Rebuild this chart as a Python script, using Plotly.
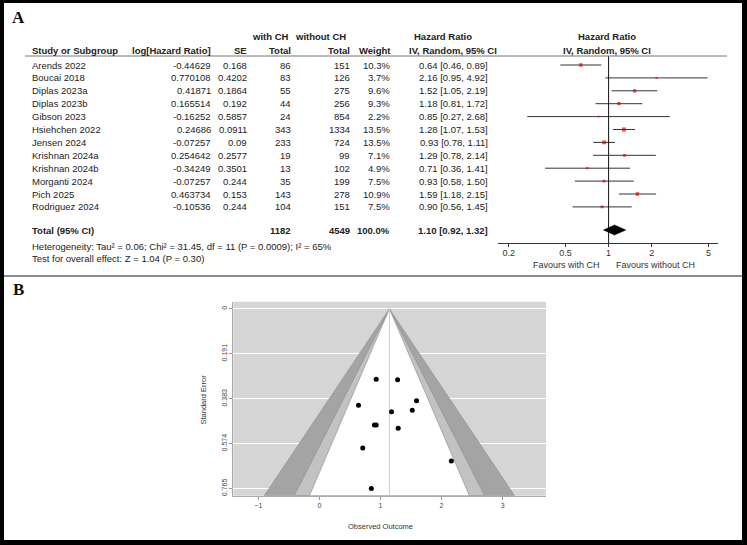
import plotly.graph_objects as go

W, H = 747, 545

# ---------------- data ----------------
studies = ["Arends 2022", "Boucai 2018", "Diplas 2023a", "Diplas 2023b", "Gibson 2023",
           "Hsiehchen 2022", "Jensen 2024", "Krishnan 2024a", "Krishnan 2024b",
           "Morganti 2024", "Pich 2025", "Rodriguez 2024"]
log_hr = [-0.44629, 0.770108, 0.41871, 0.165514, -0.16252, 0.24686, -0.07257,
          0.254642, -0.34249, -0.07257, 0.463734, -0.10536]
se = [0.168, 0.4202, 0.1864, 0.192, 0.5857, 0.0911, 0.09, 0.2577, 0.3501, 0.244, 0.153, 0.244]
n_with = [86, 83, 55, 44, 24, 343, 233, 19, 13, 35, 143, 104]
n_without = [151, 126, 275, 256, 854, 1334, 724, 99, 102, 199, 278, 151]
weight = [10.3, 3.7, 9.6, 9.3, 2.2, 13.5, 13.5, 7.1, 4.9, 7.5, 10.9, 7.5]
hr = [0.64, 2.16, 1.52, 1.18, 0.85, 1.28, 0.93, 1.29, 0.71, 0.93, 1.59, 0.90]
hr_lo = [0.46, 0.95, 1.05, 0.81, 0.27, 1.07, 0.78, 0.78, 0.36, 0.58, 1.18, 0.56]
hr_hi = [0.89, 4.92, 2.19, 1.72, 2.68, 1.53, 1.11, 2.14, 1.41, 1.50, 2.15, 1.45]
total_with, total_without, total_weight = 1182, 4549, 100.0
total_hr, total_lo, total_hi = 1.10, 0.92, 1.32
heterogeneity = "Heterogeneity: Tau² = 0.06; Chi² = 31.45, df = 11 (P = 0.0009); I² = 65%"
overall = "Test for overall effect: Z = 1.04 (P = 0.30)"
forest_ticks = [0.2, 0.5, 1, 2, 5]

# funnel plot (observed outcome vs standard error, as drawn)
funnel_x = [0.64, 2.16, 1.52, 1.18, 0.85, 1.28, 0.93, 1.29, 0.71, 0.93, 1.59, 0.90]
funnel_y = [0.410, 0.648, 0.432, 0.438, 0.765, 0.302, 0.300, 0.508, 0.592, 0.494, 0.391, 0.494]
funnel_center = 1.146
funnel_levels = [2.576, 1.96, 1.645]           # 99%, 95%, 90%
funnel_yticks = [0, 0.191, 0.383, 0.574, 0.765]
funnel_xticks = [-1, 0, 1, 2, 3]

# ---------------- helpers ----------------
def px(x):
    return x / W

def py(y):
    return 1 - y / H

FONT = "Liberation Sans, Arial, sans-serif"
FS = 9.5
TXT = "#222"
ROW0, ROW_H = 65, 12.9
rows_y = [ROW0 + ROW_H * i for i in range(len(studies))]
TOTAL_Y, HET_Y, OVR_Y = 230, 246, 258.5
HDR1_Y, HDR2_Y = 36.7, 50
AXIS_Y = 243.3

fig = go.Figure()
ann = []

def text(x, y, s, anchor="left", bold=False, size=FS, color=TXT, yref="y", family=FONT, angle=0):
    ann.append(dict(x=px(x), y=y if yref == "y" else py(y), xref="paper", yref=yref,
                    text=f"<b>{s}</b>" if bold else s, showarrow=False,
                    xanchor=anchor, yanchor="middle", textangle=angle,
                    font=dict(family=family, size=size, color=color)))

# headers
text(270, HDR1_Y, "with CH", "center", True)
text(320, HDR1_Y, "without CH", "center", True)
text(442.5, HDR1_Y, "Hazard Ratio", "center", True)
text(607, HDR1_Y, "Hazard Ratio", "center", True)
text(30, HDR2_Y, "Study or Subgroup", "left", True)
text(213, HDR2_Y, "log[Hazard Ratio]", "right", True)
text(249, HDR2_Y, "SE", "right", True)
text(293, HDR2_Y, "Total", "right", True)
text(352, HDR2_Y, "Total", "right", True)
text(392.5, HDR2_Y, "Weight", "right", True)
text(453, HDR2_Y, "IV, Random, 95% CI", "center", True)
text(607, HDR2_Y, "IV, Random, 95% CI", "center", True)

for i, s in enumerate(studies):
    y = rows_y[i]
    text(30, y, s)
    text(213, y, str(log_hr[i]), "right")
    text(249, y, str(se[i]), "right")
    text(293, y, str(n_with[i]), "right")
    text(352, y, str(n_without[i]), "right")
    text(392, y, f"{weight[i]:.1f}%", "right")
    text(490, y, f"{hr[i]:.2f} [{hr_lo[i]:.2f}, {hr_hi[i]:.2f}]", "right")

text(30, TOTAL_Y, "Total (95% CI)", "left", True)
text(293, TOTAL_Y, str(total_with), "right", True)
text(352, TOTAL_Y, str(total_without), "right", True)
text(392, TOTAL_Y, f"{total_weight:.1f}%", "right", True)
text(490, TOTAL_Y, f"{total_hr:.2f} [{total_lo:.2f}, {total_hi:.2f}]", "right", True)
text(30, HET_Y, heterogeneity)
text(30, OVR_Y, overall)
text(566.5, 264.5, "Favours with CH", "center", size=9, color="#333")
text(655, 264.5, "Favours without CH", "center", size=9, color="#333")

# panel labels
text(18, 17.5, "A", "center", True, size=17, color="#111", yref="paper", family="Liberation Serif, DejaVu Serif, serif")
text(18.5, 289, "B", "center", True, size=17, color="#111", yref="paper", family="Liberation Serif, DejaVu Serif, serif")

# funnel labels
text(202.5, 400, "Standard Error", "center", size=7.5, color="#333", yref="paper", angle=-90)
text(380, 526.5, "Observed Outcome", "center", size=7.5, color="#333", yref="paper")

# ---------------- forest traces ----------------
cx, cy = [], []
for i in range(len(studies)):
    cx += [hr_lo[i], hr_hi[i], None]
    cy += [rows_y[i], rows_y[i], None]
fig.add_trace(go.Scatter(x=cx, y=cy, mode="lines", line=dict(color="#333", width=1),
                         xaxis="x", yaxis="y", hoverinfo="skip", showlegend=False))
fig.add_trace(go.Scatter(x=[1, 1], y=[56, AXIS_Y], mode="lines", line=dict(color="#111", width=1),
                         xaxis="x", yaxis="y", hoverinfo="skip", showlegend=False))
fig.add_trace(go.Scatter(x=hr, y=rows_y, mode="markers",
                         marker=dict(symbol="square", color="#e00000",
                                     size=[1.05 * w ** 0.5 for w in weight], line=dict(width=0)),
                         xaxis="x", yaxis="y", hoverinfo="skip", showlegend=False))
fig.add_trace(go.Scatter(x=[total_lo, total_hr, total_hi, total_hr, total_lo],
                         y=[TOTAL_Y, TOTAL_Y - 5, TOTAL_Y, TOTAL_Y + 5, TOTAL_Y],
                         mode="lines", fill="toself", fillcolor="#000", line=dict(color="#000", width=0.5),
                         xaxis="x", yaxis="y", hoverinfo="skip", showlegend=False))

# ---------------- funnel traces ----------------
y_lo, y_hi = -0.0306, 0.7956
band_colors = ["#a4a4a4", "#c2c2c2", "#ffffff"]
for z, col in zip(funnel_levels, band_colors):
    fig.add_trace(go.Scatter(x=[funnel_center - z * y_hi, funnel_center, funnel_center + z * y_hi,
                                funnel_center - z * y_hi],
                             y=[y_hi, 0, y_hi, y_hi], mode="lines", fill="toself", fillcolor=col,
                             line=dict(color="#8c8c8c", width=0.6),
                             xaxis="x2", yaxis="y2", hoverinfo="skip", showlegend=False))
fig.add_trace(go.Scatter(x=[funnel_center, funnel_center], y=[0, y_hi], mode="lines",
                         line=dict(color="#cdcdcd", width=1),
                         xaxis="x2", yaxis="y2", hoverinfo="skip", showlegend=False))
fig.add_trace(go.Scatter(x=funnel_x, y=funnel_y, mode="markers",
                         marker=dict(color="#000", size=5),
                         xaxis="x2", yaxis="y2", hoverinfo="skip", showlegend=False))

# ---------------- shapes ----------------
shapes = [
    dict(type="rect", xref="x2 domain", yref="y2 domain", x0=0, x1=1, y0=0, y1=1,
         fillcolor="#d5d5d5", line=dict(width=0), layer="below"),
    dict(type="line", xref="paper", yref="y", x0=px(25), x1=px(727), y0=56, y1=56,
         line=dict(color="#777", width=1)),
    dict(type="line", xref="paper", yref="paper", x0=px(4), x1=px(742), y0=py(276), y1=py(276),
         line=dict(color="#666", width=1.5)),
]
for (x0, x1, y0, y1) in [(0, 4, 0, 545), (742, 747, 0, 545), (0, 747, 0, 3), (0, 747, 540, 545)]:
    shapes.append(dict(type="rect", xref="paper", yref="paper", x0=px(x0), x1=px(x1),
                       y0=py(y1), y1=py(y0), fillcolor="#000", line=dict(width=0)))

lx0, lx1 = 498.3, 718.3
fig.update_layout(
    width=W, height=H, margin=dict(l=0, r=0, t=0, b=0),
    paper_bgcolor="white", plot_bgcolor="rgba(0,0,0,0)", showlegend=False,
    xaxis=dict(type="log", domain=[px(lx0), px(lx1)], range=[-0.7713, 0.7671],
               anchor="free", position=py(AXIS_Y),
               tickvals=forest_ticks, ticktext=[str(t) for t in forest_ticks],
               showline=True, linecolor="#333", linewidth=1, ticks="outside", ticklen=3,
               tickcolor="#333", showgrid=False, zeroline=False, ticklabelstandoff=-2,
               tickfont=dict(family=FONT, size=9, color="#333")),
    yaxis=dict(domain=[py(276), 1], range=[276, 0], visible=False, showgrid=False, zeroline=False),
    xaxis2=dict(domain=[px(233.3), px(546)], range=[-1.41, 3.71], anchor="y2",
                tickvals=funnel_xticks, showgrid=False, zeroline=False,
                showline=True, linecolor="#aaa", ticks="outside", ticklen=3, tickcolor="#999",
                tickfont=dict(family=FONT, size=7, color="#444")),
    yaxis2=dict(domain=[py(495.7), py(301.7)], range=[y_hi, y_lo], anchor="x2",
                tickvals=funnel_yticks, ticktext=[str(t) for t in funnel_yticks],
                tickangle=-90, showgrid=True, gridcolor="white", gridwidth=1, zeroline=False,
                showline=True, linecolor="#aaa", ticks="outside", ticklen=3, tickcolor="#999",
                tickfont=dict(family=FONT, size=7, color="#444")),
    annotations=ann, shapes=shapes,
)

fig.write_html("out.html")
